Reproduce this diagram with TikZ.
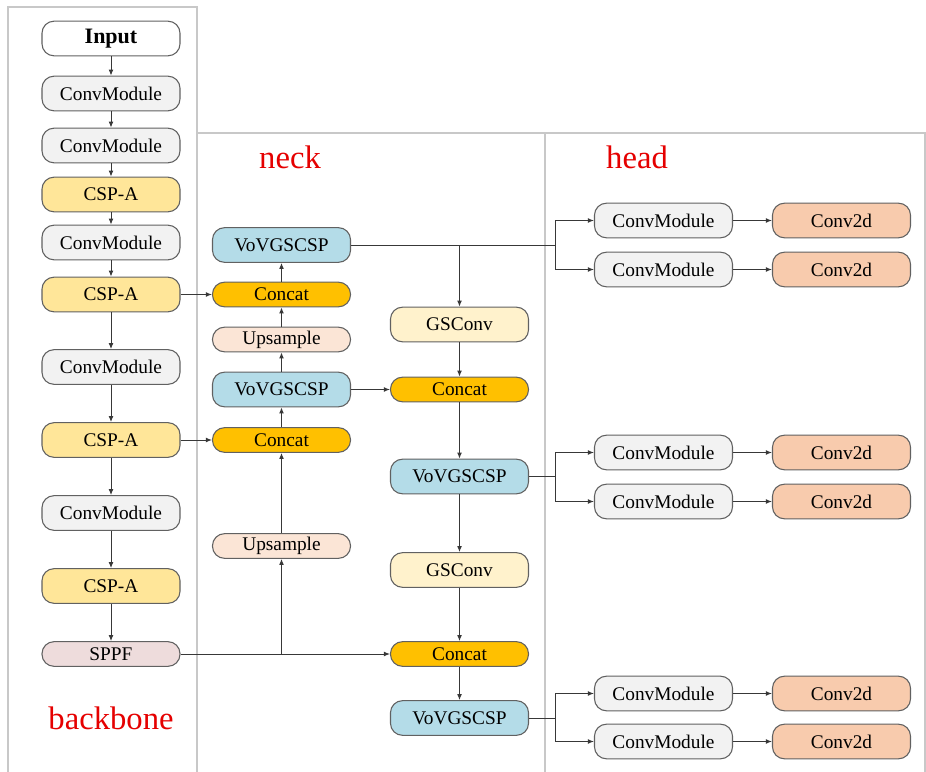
\documentclass[tikz,border=0pt]{standalone}
\usepackage{fontspec}
\setmainfont{Liberation Serif}
\usetikzlibrary{arrows.meta, positioning}

\definecolor{convGray}{HTML}{F2F2F2}
\definecolor{cspYellow}{HTML}{FFE699}
\definecolor{vovBlue}{HTML}{B4DCE8}
\definecolor{catOrange}{HTML}{FFC000}
\definecolor{upPeach}{HTML}{FBE5D6}
\definecolor{gsCream}{HTML}{FFF2CC}
\definecolor{sppfPink}{HTML}{EEDCDC}
\definecolor{convPeach}{HTML}{F8CBAD}
\definecolor{frameGray}{HTML}{C8C8C8}

\tikzset{
    >={Latex[length=4.5pt,width=3.6pt]},
    yolo_box/.style={
        rectangle,
        rounded corners=9pt,
        draw=black!62,
        line width=0.8pt,
        minimum width=103.5pt,
        minimum height=26pt,
        inner sep=0pt,
        font=\fontsize{14.5}{17}\selectfont
    },
    yolo_thin/.style={
        yolo_box,
        minimum height=18.5pt
    },
    yolo_input/.style={yolo_box, fill=white, font=\fontsize{16.5}{19}\selectfont\bfseries},
    yolo_conv/.style={yolo_box, fill=convGray},
    yolo_csp/.style={yolo_box, fill=cspYellow},
    yolo_vov/.style={yolo_box, fill=vovBlue},
    yolo_gs/.style={yolo_box, fill=gsCream},
    yolo_head/.style={yolo_box, fill=convPeach},
    yolo_concat/.style={yolo_thin, fill=catOrange},
    yolo_up/.style={yolo_thin, fill=upPeach},
    yolo_sppf/.style={yolo_thin, fill=sppfPink},
    yolo_arrow/.style={
        ->,
        line width=0.75pt,
        draw=black!78
    },
    yolo_line/.style={
        line width=0.75pt,
        draw=black!78
    },
    part_frame/.style={
        draw=frameGray,
        line width=1.2pt
    },
    part_label/.style={
        text=red!90!black,
        font=\fontsize{24.5}{28}\selectfont
    }
}

\begin{document}
\begin{tikzpicture}[x=0.75pt, y=-0.75pt]
\useasboundingbox (0,0) rectangle (926,772);

% frames
\draw[part_frame] (8,772) -- (8,7) -- (197,7) -- (197,772);
\draw[part_frame] (197,133) -- (925,133) -- (925,772);
\draw[part_frame] (545,133) -- (545,772);

\node[part_label] (lblBackbone) at (111,718) {backbone};
\node[part_label] (lblNeck) at (290,157) {neck};
\node[part_label] (lblHead) at (637,157) {head};

% backbone
\node[yolo_input] (Input) at (111,38.5) {Input};
\node[yolo_conv] (Conv1) at (111,93.5) {ConvModule};
\node[yolo_conv] (Conv2) at (111,145.5) {ConvModule};
\node[yolo_csp] (Csp1) at (111,194.5) {CSP-A};
\node[yolo_conv] (Conv3) at (111,242.5) {ConvModule};
\node[yolo_csp] (Csp2) at (111,294.5) {CSP-A};
\node[yolo_conv] (Conv4) at (111,367) {ConvModule};
\node[yolo_csp] (Csp3) at (111,440) {CSP-A};
\node[yolo_conv] (Conv5) at (111,513) {ConvModule};
\node[yolo_csp] (Csp4) at (111,586) {CSP-A};
\node[yolo_sppf] (Sppf) at (111,654) {SPPF};

% neck, left column
\node[yolo_vov] (VovA) at (281.5,245) {VoVGSCSP};
\node[yolo_concat] (CatA) at (281.5,294.5) {Concat};
\node[yolo_up] (UpA) at (281.5,339.5) {Upsample};
\node[yolo_vov] (VovB) at (281.5,389.5) {VoVGSCSP};
\node[yolo_concat] (CatB) at (281.5,440) {Concat};
\node[yolo_up] (UpB) at (281.5,546) {Upsample};

% neck, right column
\node[yolo_gs] (GsA) at (459.5,324.5) {GSConv};
\node[yolo_concat] (CatC) at (459.5,389.5) {Concat};
\node[yolo_vov] (VovC) at (459.5,476.5) {VoVGSCSP};
\node[yolo_gs] (GsB) at (459.5,570) {GSConv};
\node[yolo_concat] (CatD) at (459.5,654) {Concat};
\node[yolo_vov] (VovD) at (459.5,718) {VoVGSCSP};

% head
\node[yolo_conv] (HConv1) at (663.5,220.5) {ConvModule};
\node[yolo_conv] (HConv2) at (663.5,269.5) {ConvModule};
\node[yolo_conv] (HConv3) at (663.5,452.5) {ConvModule};
\node[yolo_conv] (HConv4) at (663.5,501.5) {ConvModule};
\node[yolo_conv] (HConv5) at (663.5,693.5) {ConvModule};
\node[yolo_conv] (HConv6) at (663.5,741.5) {ConvModule};
\node[yolo_head] (Det1) at (841.5,220.5) {Conv2d};
\node[yolo_head] (Det2) at (841.5,269.5) {Conv2d};
\node[yolo_head] (Det3) at (841.5,452.5) {Conv2d};
\node[yolo_head] (Det4) at (841.5,501.5) {Conv2d};
\node[yolo_head] (Det5) at (841.5,693.5) {Conv2d};
\node[yolo_head] (Det6) at (841.5,741.5) {Conv2d};

\coordinate (SplitA) at (555,245);
\coordinate (SplitB) at (555,476.5);
\coordinate (SplitC) at (555,718);

% backbone arrows
\draw[yolo_arrow] (Input) -- (Conv1);
\draw[yolo_arrow] (Conv1) -- (Conv2);
\draw[yolo_arrow] (Conv2) -- (Csp1);
\draw[yolo_arrow] (Csp1) -- (Conv3);
\draw[yolo_arrow] (Conv3) -- (Csp2);
\draw[yolo_arrow] (Csp2) -- (Conv4);
\draw[yolo_arrow] (Conv4) -- (Csp3);
\draw[yolo_arrow] (Csp3) -- (Conv5);
\draw[yolo_arrow] (Conv5) -- (Csp4);
\draw[yolo_arrow] (Csp4) -- (Sppf);

% neck arrows
\draw[yolo_arrow] (Csp2) -- (CatA);
\draw[yolo_arrow] (Csp3) -- (CatB);
\draw[yolo_arrow] (Sppf) -- (CatD);
\draw[yolo_arrow] (Sppf.east -| UpB.south) -- (UpB.south);
\draw[yolo_arrow] (UpB) -- (CatB);
\draw[yolo_arrow] (CatB) -- (VovB);
\draw[yolo_arrow] (VovB) -- (UpA);
\draw[yolo_arrow] (UpA) -- (CatA);
\draw[yolo_arrow] (CatA) -- (VovA);
\draw[yolo_line] (VovA.east) -- (SplitA);
\draw[yolo_arrow] (VovA.east -| GsA.north) -- (GsA.north);
\draw[yolo_arrow] (VovB) -- (CatC);
\draw[yolo_arrow] (GsA) -- (CatC);
\draw[yolo_arrow] (CatC) -- (VovC);
\draw[yolo_arrow] (VovC) -- (GsB);
\draw[yolo_arrow] (GsB) -- (CatD);
\draw[yolo_arrow] (CatD) -- (VovD);
\draw[yolo_line] (VovC.east) -- (SplitB);
\draw[yolo_line] (VovD.east) -- (SplitC);

% head arrows
\draw[yolo_arrow] (SplitA) |- (HConv1.west);
\draw[yolo_arrow] (SplitA) |- (HConv2.west);
\draw[yolo_arrow] (SplitB) |- (HConv3.west);
\draw[yolo_arrow] (SplitB) |- (HConv4.west);
\draw[yolo_arrow] (SplitC) |- (HConv5.west);
\draw[yolo_arrow] (SplitC) |- (HConv6.west);
\draw[yolo_arrow] (HConv1) -- (Det1);
\draw[yolo_arrow] (HConv2) -- (Det2);
\draw[yolo_arrow] (HConv3) -- (Det3);
\draw[yolo_arrow] (HConv4) -- (Det4);
\draw[yolo_arrow] (HConv5) -- (Det5);
\draw[yolo_arrow] (HConv6) -- (Det6);

\end{tikzpicture}
\end{document}
